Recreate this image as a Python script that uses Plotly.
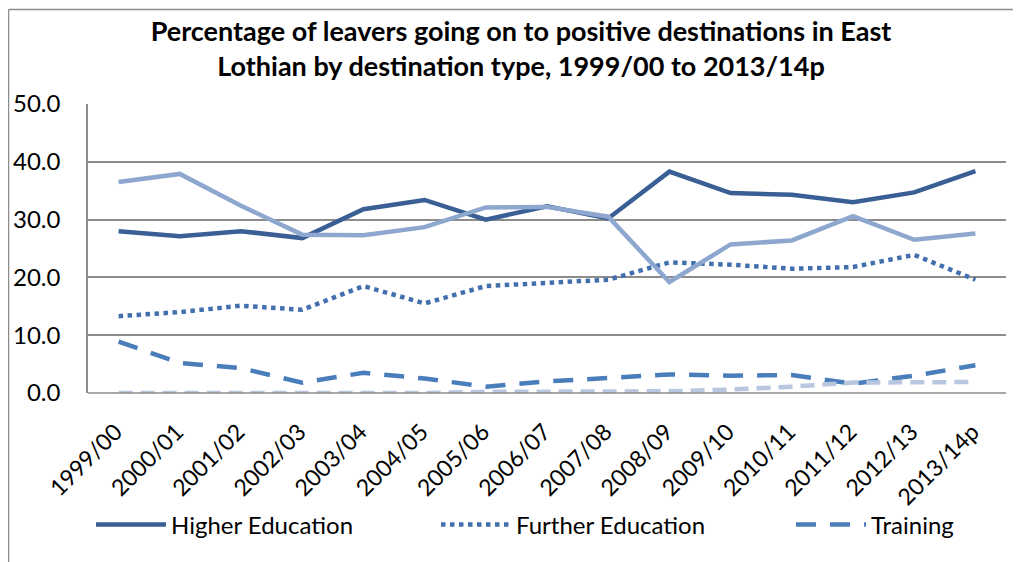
import plotly.graph_objects as go

years = ['1999/00', '2000/01', '2001/02', '2002/03', '2003/04', '2004/05', '2005/06',
         '2006/07', '2007/08', '2008/09', '2009/10', '2010/11', '2011/12', '2012/13', '2013/14p']

higher_education = [28.0, 27.1, 28.0, 26.8, 31.8, 33.4, 30.0, 32.3, 30.2, 38.3, 34.6, 34.3, 33.0, 34.7, 38.4]
further_education = [13.3, 14.0, 15.1, 14.4, 18.5, 15.5, 18.5, 19.1, 19.6, 22.6, 22.2, 21.5, 21.8, 23.9, 19.6]
training = [8.9, 5.2, 4.3, 1.8, 3.5, 2.5, 1.1, 2.0, 2.6, 3.2, 3.0, 3.1, 1.6, 3.0, 4.8]
employment = [36.5, 37.9, 32.4, 27.4, 27.3, 28.7, 32.1, 32.2, 30.5, 19.2, 25.7, 26.4, 30.6, 26.5, 27.6]
voluntary = [0.0, 0.0, 0.0, 0.0, 0.0, 0.0, 0.2, 0.2, 0.3, 0.3, 0.6, 1.1, 1.8, 1.8, 1.9]

title_text = ('<b>Percentage of leavers going on to positive destinations in East<br>'
              'Lothian by destination type, 1999/00 to 2013/14p</b>')

FONT = 'Lato'

fig = go.Figure()
fig.add_trace(go.Scatter(x=years, y=higher_education, name='Higher Education', mode='lines',
                         legend='legend', line=dict(color='#3A5F94', width=4.5)))
fig.add_trace(go.Scatter(x=years, y=further_education, name='Further Education', mode='lines',
                         legend='legend2', line=dict(color='#4270AE', width=4.5, dash='dot')))
fig.add_trace(go.Scatter(x=years, y=training, name='Training', mode='lines',
                         legend='legend3', line=dict(color='#4A7EBB', width=4.5, dash='20px,14px')))
fig.add_trace(go.Scatter(x=years, y=employment, name='Employment', mode='lines', showlegend=False,
                         line=dict(color='#8EA7CF', width=4.5)))
fig.add_trace(go.Scatter(x=years, y=voluntary, name='Voluntary Work', mode='lines', showlegend=False,
                         line=dict(color='#B9C6E0', width=4.5, dash='14px,8px')))

# page body has an 8px margin, so the figure is drawn offset by (8, 8)
OFF = 8
W, H = 1021 - OFF, 562 - OFF
L, R, T, B = 88 - OFF, 1021 - 1006, 104 - OFF, 562 - 393
pw = W - L - R
ph = H - T - B


def px_x(p):
    return (p - OFF - L) / pw


def px_y(p):
    return (H - B - (p - OFF)) / ph


def legend_at(px):
    return dict(orientation='h', x=px_x(px), xanchor='left', y=px_y(525), yanchor='middle',
                itemwidth=70, font=dict(family=FONT, size=24), bgcolor='rgba(0,0,0,0)')


fig.update_layout(
    width=W, height=H,
    margin=dict(l=L, r=R, t=T, b=B),
    paper_bgcolor='white', plot_bgcolor='white',
    font=dict(family=FONT, size=22, color='black'),
    title=dict(text=title_text, x=(521 - OFF) / W, xanchor='center', y=1 - (41 - OFF) / H,
               yanchor='middle', font=dict(family=FONT, size=27, color='black')),
    showlegend=True,
    legend=legend_at(91),
    legend2=legend_at(436),
    legend3=legend_at(791),
    xaxis=dict(type='category', range=[-0.5, len(years) - 0.5], tickangle=-45, showgrid=False,
               showline=False, automargin=False, ticks='', ticklabelstandoff=20, ticklabelshift=-3,
               tickfont=dict(family=FONT, size=23), zeroline=False),
    yaxis=dict(range=[0, 50], dtick=10, tickformat='.1f', showgrid=True, gridcolor='#8C8C8C',
               gridwidth=1.5, zeroline=False, showline=True, linecolor='#8C8C8C', linewidth=1.5,
               automargin=False, ticks='', ticklabelstandoff=21, tickfont=dict(family=FONT, size=24)),
    shapes=[
        dict(type='line', xref='paper', yref='paper', x0=px_x(8.5), x1=px_x(8.5), y0=px_y(570),
             y1=px_y(9.5), line=dict(color='#8C8C8C', width=1.5)),
        dict(type='line', xref='paper', yref='paper', x0=px_x(8.5), x1=px_x(1030), y0=px_y(9.5),
             y1=px_y(9.5), line=dict(color='#8C8C8C', width=1.5)),
        dict(type='line', xref='paper', yref='paper', x0=0, x1=1, y0=0, y1=0,
             line=dict(color='#8C8C8C', width=1.5)),
    ],
)

fig.write_html('out.html')
